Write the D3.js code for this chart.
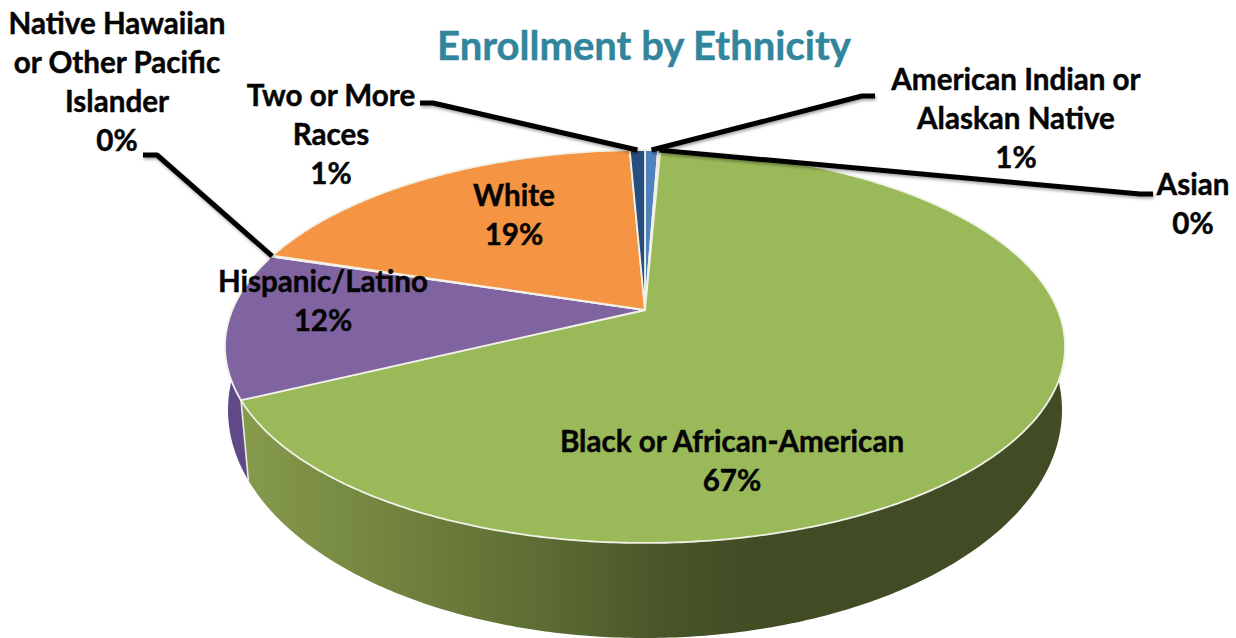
<!DOCTYPE html>
<html>
<head>
<meta charset="utf-8">
<script src="https://cdn.jsdelivr.net/npm/d3@7/dist/d3.min.js"></script>
<style>
  html, body { margin: 0; padding: 0; background: #fff; }
  text { font-family: Lato, "Noto Sans", sans-serif; font-weight: 700; fill: #050505; stroke: #050505; stroke-width: 0.45px; text-anchor: middle; }
  text.title { fill: #31859c; stroke: #31859c; }
</style>
</head>
<body>
<svg id="chart" width="1236" height="638"></svg>
<script>
// Enrollment shares, clockwise from 12 o'clock
const categories = ["American Indian or Alaskan Native", "Asian", "Black or African-American",
  "Hispanic/Latino", "Native Hawaiian or Other Pacific Islander", "White", "Two or More Races"];
const shares = [0.6, 0.1, 67.1, 12.0, 0.1, 19.4, 0.7];
const sliceColors = ["#4f81bd", "#c0706d", "#9aba59", "#8064a2", "#4bacc6", "#f59443", "#264f7f"];
const wallColors = ["#3f6796", "#99403d", "url(#wallGreen)", "#5f4a87", "#3a8a9e", "#c4752f", "#1d3d62"];
const labelLines = [
  ["American Indian or", "Alaskan Native"],
  ["Asian"],
  ["Black or African-American"],
  ["Hispanic/Latino"],
  ["Native Hawaiian", "or Other Pacific", "Islander"],
  ["White"],
  ["Two or More", "Races"]
];
const labelAnchors = [[1016, 90], [1193, 195], [732, 452], [323, 292], [117, 34], [514, 206], [331, 106]];
// Elbowed leader lines: label end, elbow; the third point comes from the slice itself
const leaders = {
  0: [[875, 96], [862, 96]],
  1: [[1153, 194], [1140, 194]],
  4: [[143, 155], [157, 155]],
  6: [[420, 103], [433, 103]]
};

const svg = d3.select("#chart");
const lineGap = 39;

// Tilted disc: a unit circle seen in perspective, nearer edge lower and larger
const apex = { x: 645, y: 310 };
const persp = 0.1857, scaleX = 412.7, scaleY = 189.7;
function topPoint(a) {
  const u = Math.sin(a), v = -Math.cos(a), w = 1 - persp * v;
  return [apex.x + scaleX * u / w, apex.y + scaleY * v / w];
}
// Outline of the top face as an ellipse, used to carry rim points over to the base
const topEllipse = { cx: 645, cy: 346, rx: 420, ry: 197 };
const baseEllipse = { cx: 645, cy: 410, rx: 417, ry: 228 };
const baseTwist = 2 * Math.PI / 180;
function basePoint(a) {
  const [x, y] = topPoint(a);
  const phi = Math.atan2((y - topEllipse.cy) / topEllipse.ry, (x - topEllipse.cx) / topEllipse.rx) - baseTwist;
  return [baseEllipse.cx + baseEllipse.rx * Math.cos(phi), baseEllipse.cy + baseEllipse.ry * Math.sin(phi)];
}
const rimSamples = (a0, a1) => {
  const n = Math.max(2, Math.ceil((a1 - a0) / 0.01));
  return d3.range(n + 1).map(i => a0 + (a1 - a0) * i / n);
};

const pie = d3.pie().sort(null).value(d => d)
  .startAngle(0).endAngle(2 * Math.PI);
const slices = pie(shares).map((d, i) => ({ ...d, i }));
const path = d3.line();

const defs = svg.append("defs");
const wall = defs.append("linearGradient").attr("id", "wallGreen")
  .attr("gradientUnits", "userSpaceOnUse")
  .attr("x1", 245).attr("x2", 1065).attr("y1", 0).attr("y2", 0);
[[0, "#869a4a"], [0.034, "#82964a"], [0.2, "#6f813c"], [0.38, "#5a6a32"],
 [0.5, "#4a5729"], [0.62, "#414c25"], [1, "#414c25"]]
  .forEach(([o, c]) => wall.append("stop").attr("offset", o).attr("stop-color", c));
const shadow = defs.append("filter").attr("id", "leaderShadow")
  .attr("x", "-10%").attr("y", "-30%").attr("width", "120%").attr("height", "160%");
shadow.append("feDropShadow").attr("dx", 1).attr("dy", 2).attr("stdDeviation", 1.5)
  .attr("flood-color", "#000").attr("flood-opacity", 0.35);

// Outer walls first; the top face then covers whatever lies behind it
svg.append("g").selectAll("path").data(slices).join("path")
  .attr("d", d => {
    const as = rimSamples(d.startAngle, d.endAngle);
    return path([...as.map(topPoint), ...as.slice().reverse().map(basePoint)]) + "Z";
  })
  .attr("fill", d => wallColors[d.i]);

// Seam where the green and purple walls meet
const seam = slices[2].endAngle;
svg.append("line")
  .attr("x1", topPoint(seam)[0]).attr("y1", topPoint(seam)[1])
  .attr("x2", basePoint(seam)[0]).attr("y2", basePoint(seam)[1])
  .attr("stroke", "#e9ebdf").attr("stroke-width", 1.6);

// Top face
svg.append("g").selectAll("path").data(slices).join("path")
  .attr("d", d => path([[apex.x, apex.y], ...rimSamples(d.startAngle, d.endAngle).map(topPoint)]) + "Z")
  .attr("fill", d => sliceColors[d.i])
  .attr("stroke", "#f1f1e8").attr("stroke-width", 1.8).attr("stroke-linejoin", "round");

// Leader lines
svg.append("g").attr("filter", "url(#leaderShadow)").selectAll("path")
  .data(slices.filter(d => leaders[d.i])).join("path")
  .attr("d", d => path([...leaders[d.i], topPoint((d.startAngle + d.endAngle) / 2)]))
  .attr("fill", "none").attr("stroke", "#000").attr("stroke-width", 5)
  .attr("stroke-linejoin", "round");

// Labels: name lines, then the rounded share
const pct = d3.format(".0f");
const labels = svg.append("g").selectAll("text").data(slices).join("text")
  .attr("x", d => labelAnchors[d.i][0])
  .attr("y", d => labelAnchors[d.i][1])
  .attr("font-size", 29.6);
labels.selectAll("tspan")
  .data(d => [...labelLines[d.i], pct(d.value) + "%"].map(t => ({ t, x: labelAnchors[d.i][0] })))
  .join("tspan")
  .attr("x", d => d.x)
  .attr("dy", (d, i) => i ? lineGap : 0)
  .text(d => d.t);

svg.append("text").attr("class", "title").attr("x", 644).attr("y", 60)
  .attr("font-size", 40)
  .text("Enrollment by Ethnicity");
</script>
</body>
</html>
